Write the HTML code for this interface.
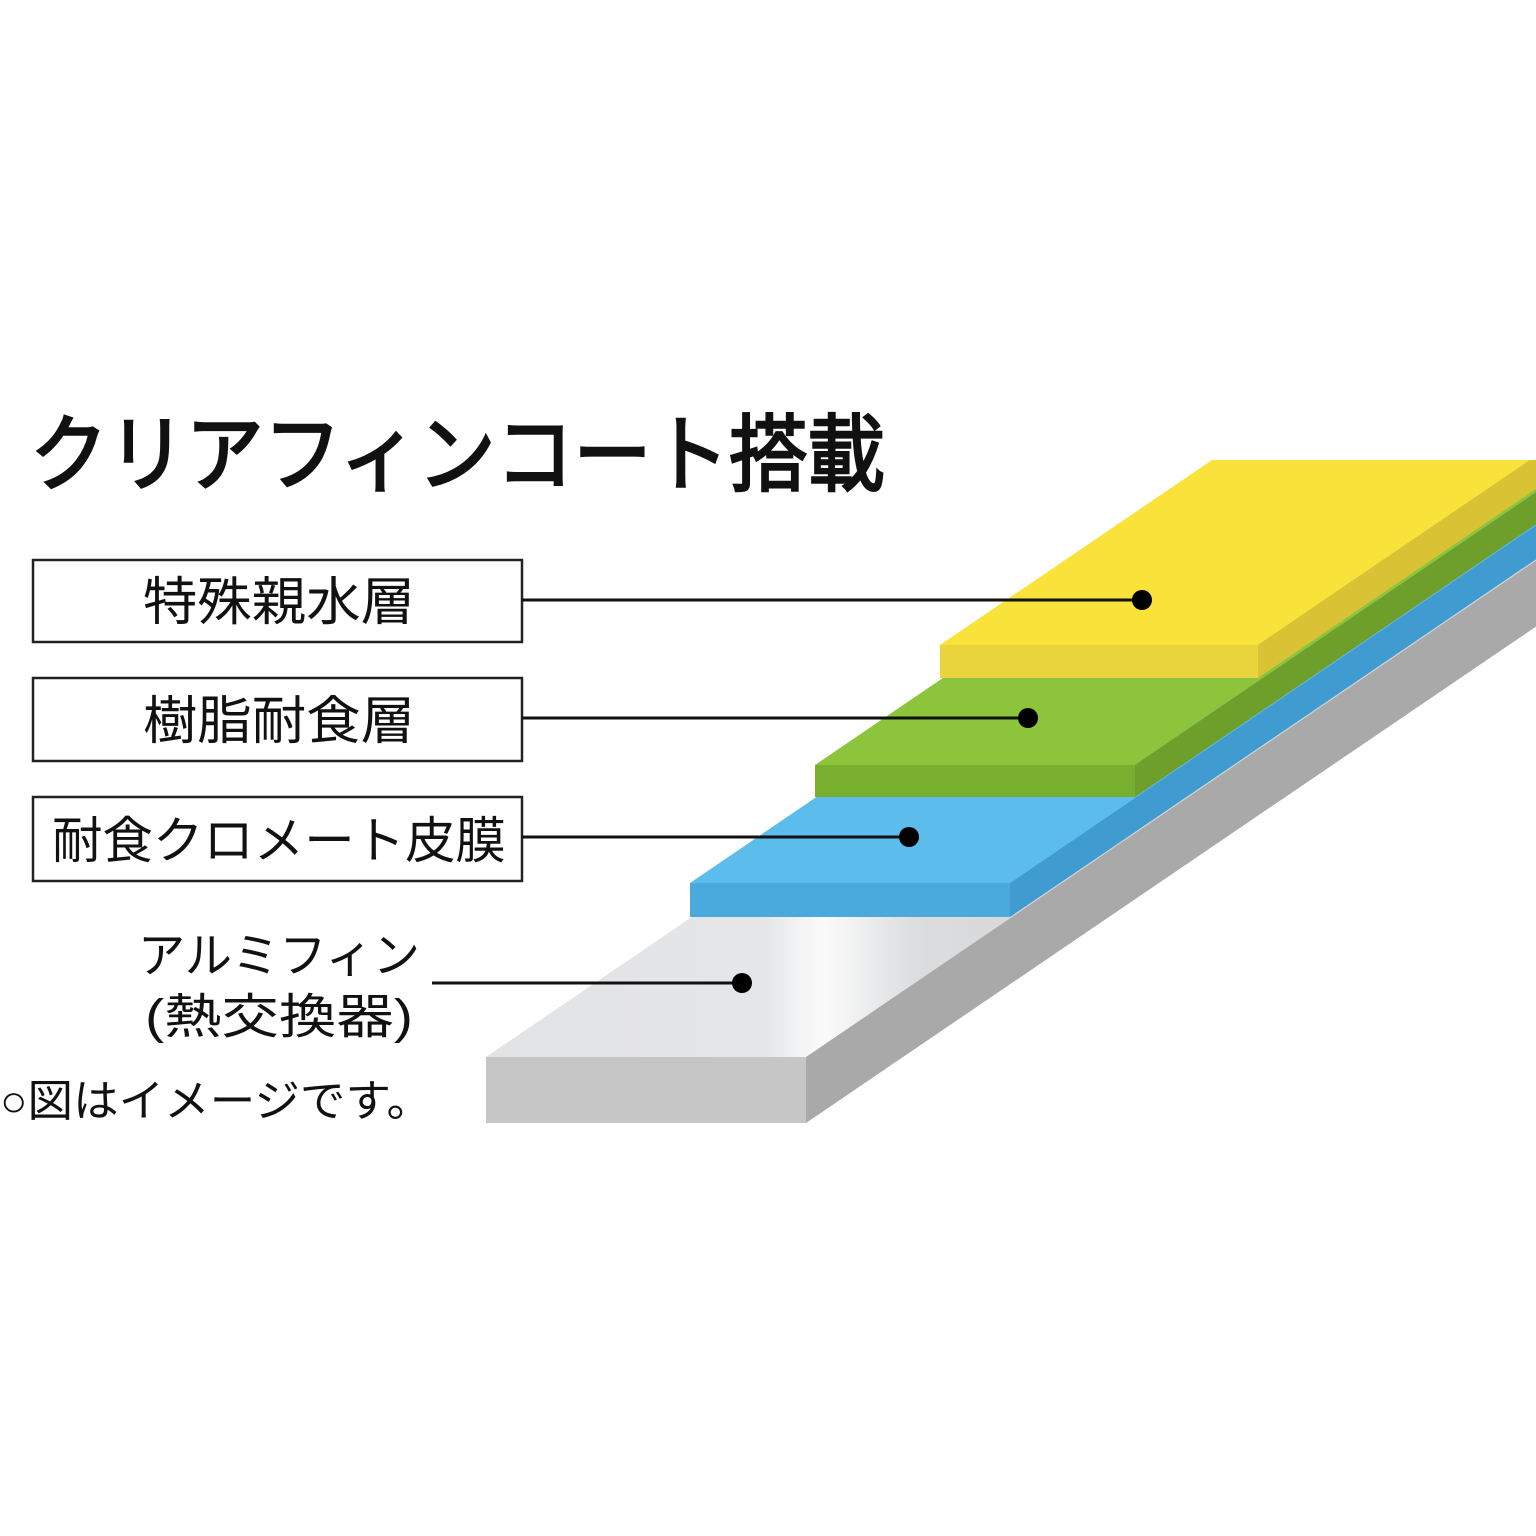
<!DOCTYPE html>
<html><head><meta charset="utf-8"><style>html,body{margin:0;padding:0;background:#fff;}svg{display:block}</style></head>
<body>
<svg width="1536" height="1536" viewBox="0 0 1536 1536" xmlns="http://www.w3.org/2000/svg">
<defs>
<linearGradient id="alu" x1="486" y1="0" x2="1100" y2="0" gradientUnits="userSpaceOnUse">
<stop offset="0" stop-color="#e2e3e5"/><stop offset="0.45" stop-color="#e5e6e8"/><stop offset="0.55" stop-color="#fbfbfb"/><stop offset="0.7" stop-color="#dcdddf"/><stop offset="1" stop-color="#d4d5d7"/>
</linearGradient>
<clipPath id="c"><rect x="0" y="460" width="1536" height="1076"/></clipPath>
</defs>
<g clip-path="url(#c)">
<polygon points="486,1057 806,1057 1806,377 1486,377" fill="url(#alu)"/>
<polygon points="806,1057 806,1123 1806,443 1806,377" fill="#a9a9a9"/>
<polygon points="486,1057 806,1057 806,1123 486,1123" fill="#c6c6c6"/>
<polygon points="690,883 1010,883 2010,203 1690,203" fill="#5cbdec"/>
<polygon points="1010,883 1010,917 2010,237 2010,203" fill="#3f9bd0"/>
<polygon points="690,883 1010,883 1010,917 690,917" fill="#4aaade"/>
<polygon points="815,765 1135,765 2135,85 1815,85" fill="#8cc43c"/>
<polygon points="1135,765 1135,797 2135,117 2135,85" fill="#6e9f2a"/>
<polygon points="815,765 1135,765 1135,797 815,797" fill="#79af2f"/>
<polygon points="940,645 1258,645 2258,-35 1940,-35" fill="#f9e23a"/>
<polygon points="1258,645 1258,678 2258,-2 2258,-35" fill="#d9c335"/>
<polygon points="940,645 1258,645 1258,678 940,678" fill="#e9d43b"/>
</g>
<g fill="none" stroke="#222" stroke-width="2.5">
<rect x="33" y="560" width="489" height="82"/>
<rect x="33" y="678" width="489" height="83"/>
<rect x="33" y="797" width="489" height="84"/>
</g>
<g stroke="#111" stroke-width="3">
<line x1="522" y1="600" x2="1142" y2="600"/>
<line x1="522" y1="718" x2="1028" y2="718"/>
<line x1="522" y1="837" x2="909" y2="837"/>
<line x1="432" y1="983" x2="742" y2="983"/>
</g>
<g fill="#000">
<circle cx="1142" cy="600" r="10"/>
<circle cx="1028" cy="718" r="10"/>
<circle cx="909" cy="837" r="10"/>
<circle cx="742" cy="983" r="10"/>
</g>
<g font-family="'Liberation Sans','Noto Sans CJK JP',sans-serif" fill="#111">
<text x="30" y="484" font-size="84" stroke="#111" stroke-width="2.5" textLength="855" lengthAdjust="spacingAndGlyphs">クリアフィンコート搭載</text>
<text x="143" y="620" font-size="52" textLength="272" lengthAdjust="spacingAndGlyphs">特殊親水層</text>
<text x="143" y="739" font-size="52" textLength="272" lengthAdjust="spacingAndGlyphs">樹脂耐食層</text>
<text x="52" y="858" font-size="50" textLength="454" lengthAdjust="spacingAndGlyphs">耐食クロメート皮膜</text>
<text x="138" y="972" font-size="48" textLength="282" lengthAdjust="spacingAndGlyphs">アルミフィン</text>
<text x="145" y="1033" font-size="48" textLength="268" lengthAdjust="spacingAndGlyphs">(熱交換器)</text>
<text x="0" y="1116" font-size="44" textLength="432" lengthAdjust="spacingAndGlyphs">○図はイメージです。</text>
</g>
</svg>
</body></html>
